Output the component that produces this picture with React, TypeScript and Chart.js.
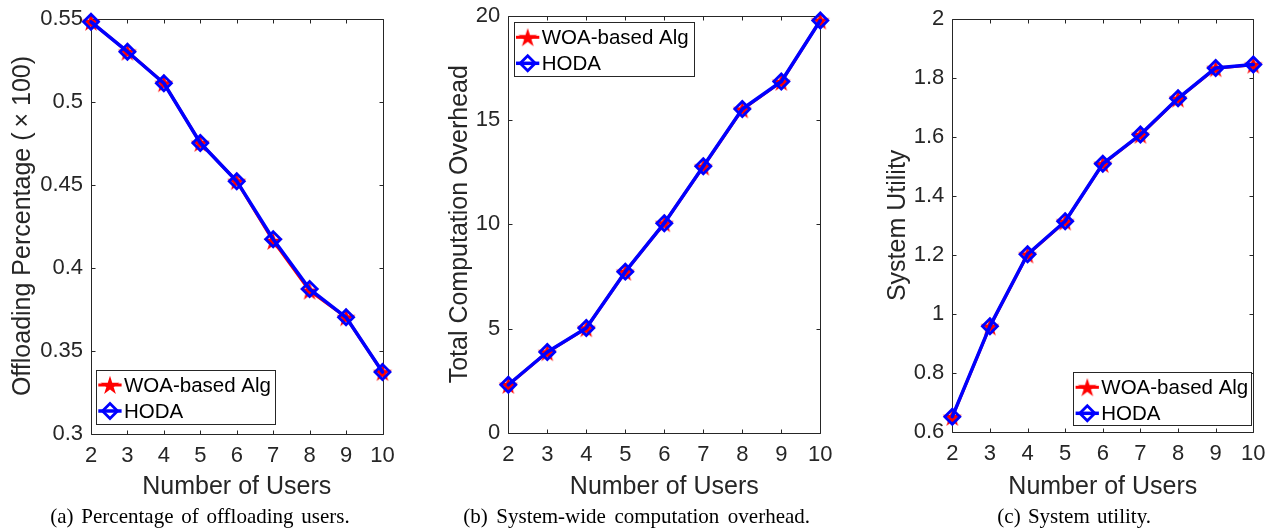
import React, { useEffect, useRef } from 'react';
import { Chart, registerables } from 'chart.js';
Chart.register(...registerables);

// ---------- data ----------
const users = ['2', '3', '4', '5', '6', '7', '8', '9', '10'];
const seriesNames = ['WOA-based Alg', 'HODA'];
const xTitle = 'Number of Users';

const offloadWOA = [0.548, 0.530, 0.511, 0.475, 0.452, 0.416, 0.386, 0.370, 0.337];
const offloadHODA = [0.548, 0.530, 0.511, 0.475, 0.452, 0.417, 0.387, 0.370, 0.337];
const offloadTicks = [0.3, 0.35, 0.4, 0.45, 0.5, 0.55];
const offloadTickLabels = ['0.3', '0.35', '0.4', '0.45', '0.5', '0.55'];

const overheadWOA = [2.30, 3.87, 5.02, 7.72, 10.05, 12.76, 15.50, 16.82, 19.76];
const overheadHODA = [2.31, 3.88, 5.03, 7.73, 10.05, 12.78, 15.52, 16.84, 19.76];
const overheadTicks = [0, 5, 10, 15, 20];
const overheadTickLabels = ['0', '5', '10', '15', '20'];

const utilityWOA = [0.650, 0.957, 1.201, 1.313, 1.508, 1.607, 1.730, 1.833, 1.845];
const utilityHODA = [0.651, 0.958, 1.202, 1.314, 1.509, 1.608, 1.731, 1.834, 1.846];
const utilityTicks = [0.6, 0.8, 1, 1.2, 1.4, 1.6, 1.8, 2];
const utilityTickLabels = ['0.6', '0.8', '1', '1.2', '1.4', '1.6', '1.8', '2'];

const captions = [
  '(a) Percentage of offloading users.',
  '(b) System-wide computation overhead.',
  '(c) System utility.',
];

// ---------- styles ----------
const AXIS_COLOR = '#262626';
const SANS = "'Liberation Sans', Arial, Helvetica, sans-serif";
const SERIF = "'Liberation Serif', 'Times New Roman', serif";

function makeStar(R: number, color: string): HTMLCanvasElement {
  const size = Math.ceil(2 * R + 2);
  const c = document.createElement('canvas');
  c.width = size;
  c.height = size;
  const ctx = c.getContext('2d')!;
  const cx = size / 2;
  const cy = size / 2 + R * 0.08;
  const r = R * 0.382;
  ctx.beginPath();
  for (let i = 0; i < 10; i++) {
    const ang = -Math.PI / 2 + (i * Math.PI) / 5;
    const rr = i % 2 === 0 ? R : r;
    ctx.lineTo(cx + rr * Math.cos(ang), cy + rr * Math.sin(ang));
  }
  ctx.closePath();
  ctx.fillStyle = color;
  ctx.fill();
  return c;
}

function drawDiamond(ctx: CanvasRenderingContext2D, x: number, y: number, r: number, lw: number, color: string) {
  ctx.save();
  ctx.beginPath();
  ctx.moveTo(x - r, y);
  ctx.lineTo(x, y - r);
  ctx.lineTo(x + r, y);
  ctx.lineTo(x, y + r);
  ctx.closePath();
  ctx.lineWidth = lw;
  ctx.strokeStyle = color;
  ctx.lineJoin = 'miter';
  ctx.stroke();
  ctx.restore();
}

const boxPlugin = {
  id: 'matlabBox',
  beforeDatasetsDraw(chart: any) {
    const { ctx, chartArea: a, scales } = chart;
    const xs = scales.x;
    const ys = scales.y;
    const L = Math.round(a.left) + 0.5;
    const R = Math.round(a.right) + 0.5;
    const T = Math.round(a.top) + 0.5;
    const B = Math.round(a.bottom) + 0.5;
    const TL = 4;
    ctx.save();
    ctx.strokeStyle = AXIS_COLOR;
    ctx.lineWidth = 1;
    ctx.beginPath();
    ctx.rect(L, T, R - L, B - T);
    xs.ticks.forEach((_t: any, i: number) => {
      const px = Math.round(xs.getPixelForTick(i)) + 0.5;
      ctx.moveTo(px, B);
      ctx.lineTo(px, B - TL);
      ctx.moveTo(px, T);
      ctx.lineTo(px, T + TL);
    });
    ys.ticks.forEach((t: any) => {
      const py = Math.round(ys.getPixelForValue(t.value)) + 0.5;
      ctx.moveTo(L, py);
      ctx.lineTo(L + TL, py);
      ctx.moveTo(R, py);
      ctx.lineTo(R - TL, py);
    });
    ctx.stroke();
    ctx.restore();
  },
};

const legendPlugin = {
  id: 'matlabLegend',
  afterDraw(chart: any, _args: any, opts: any) {
    const { ctx, chartArea: a } = chart;
    const w = opts.w;
    const h = opts.h;
    const left = opts.corner.includes('l') ? a.left + opts.dx : a.right - opts.dx - w;
    const top = opts.corner.includes('t') ? a.top + opts.dy : a.bottom - opts.dy - h;
    ctx.save();
    ctx.fillStyle = '#ffffff';
    ctx.fillRect(left, top, w, h);
    ctx.strokeStyle = AXIS_COLOR;
    ctx.lineWidth = 1;
    ctx.strokeRect(Math.round(left) + 0.5, Math.round(top) + 0.5, Math.round(w), Math.round(h));
    chart.data.datasets.forEach((ds: any, i: number) => {
      const cy = top + opts.rows[i];
      ctx.beginPath();
      ctx.moveTo(left + opts.lineX0, cy);
      ctx.lineTo(left + opts.lineX1, cy);
      ctx.strokeStyle = ds.borderColor;
      ctx.lineWidth = ds.borderWidth;
      ctx.stroke();
      const mx = left + opts.markerX;
      if (typeof ds.pointStyle === 'object') {
        const img = ds.pointStyle as HTMLCanvasElement;
        ctx.drawImage(img, mx - img.width / 2, cy - img.height / 2);
      } else {
        drawDiamond(ctx, mx, cy, ds.pointRadius, ds.pointBorderWidth, ds.pointBorderColor);
      }
      ctx.fillStyle = '#000000';
      ctx.font = `${opts.fontSize}px ${SANS}`;
      ctx.textBaseline = 'middle';
      ctx.textAlign = 'left';
      ctx.fillText(ds.label, left + opts.textX, cy + 1);
    });
    ctx.restore();
  },
};

type PanelSpec = {
  woa: number[];
  hoda: number[];
  ticks: number[];
  tickLabels: string[];
  yTitle: string;
  yWidth: number;
  xHeight: number;
  pad: { top: number; right: number };
  yTitlePad: number;
  xTitlePad: number;
  legend: any;
};

function makeConfig(p: PanelSpec): any {
  const star = makeStar(10, '#ff0000');
  return {
    type: 'line',
    data: {
      labels: users,
      datasets: [
        {
          label: seriesNames[0],
          data: p.woa,
          borderColor: '#ff0000',
          backgroundColor: '#ff0000',
          borderWidth: 3,
          pointStyle: star,
          pointRadius: 10,
          pointBorderWidth: 0,
          order: 2,
          clip: false,
          borderJoinStyle: 'round',
          borderCapStyle: 'round',
        },
        {
          label: seriesNames[1],
          data: p.hoda,
          borderColor: '#0000ff',
          backgroundColor: 'rgba(0,0,0,0)',
          borderWidth: 3.5,
          pointStyle: 'rectRot',
          pointRadius: 7.5,
          pointBorderWidth: 2.8,
          pointBackgroundColor: 'rgba(0,0,0,0)',
          pointBorderColor: '#0000ff',
          order: 1,
          clip: false,
          borderJoinStyle: 'round',
          borderCapStyle: 'round',
        },
      ],
    },
    options: {
      responsive: false,
      animation: false,
      devicePixelRatio: 1,
      events: [],
      layout: { padding: { left: 0, top: p.pad.top, right: p.pad.right, bottom: 0 } },
      plugins: {
        legend: { display: false },
        tooltip: { enabled: false },
        matlabLegend: p.legend,
      },
      scales: {
        x: {
          type: 'category',
          offset: false,
          afterFit: (s: any) => {
            s.height = p.xHeight;
            s.paddingLeft = 0;
            s.paddingRight = 0;
          },
          grid: { display: false, drawTicks: false },
          border: { display: false },
          ticks: {
            autoSkip: false,
            maxRotation: 0,
            minRotation: 0,
            padding: 9,
            color: AXIS_COLOR,
            font: { family: SANS, size: 22 },
          },
          title: {
            display: true,
            text: xTitle,
            color: AXIS_COLOR,
            font: { family: SANS, size: 25 },
            padding: { top: 0, bottom: p.xTitlePad },
          },
        },
        y: {
          type: 'linear',
          min: p.ticks[0],
          max: p.ticks[p.ticks.length - 1],
          afterBuildTicks: (s: any) => {
            s.ticks = p.ticks.map((v) => ({ value: v }));
          },
          afterFit: (s: any) => {
            s.width = p.yWidth;
            s.paddingTop = 0;
            s.paddingBottom = 0;
          },
          grid: { display: false, drawTicks: false },
          border: { display: false },
          ticks: {
            autoSkip: false,
            padding: 8,
            color: AXIS_COLOR,
            font: { family: SANS, size: 22 },
            callback: (_v: any, i: number) => p.tickLabels[i],
          },
          title: {
            display: true,
            text: p.yTitle,
            color: AXIS_COLOR,
            font: { family: SANS, size: 25 },
            padding: { top: p.yTitlePad, bottom: 0 },
          },
        },
      },
    },
    plugins: [boxPlugin, legendPlugin],
  };
}

function Panel({ left, width, spec }: { left: number; width: number; spec: PanelSpec }) {
  const ref = useRef<HTMLCanvasElement>(null);
  useEffect(() => {
    const chart = new Chart(ref.current!, makeConfig(spec));
    return () => chart.destroy();
  }, []);
  return (
    <canvas
      ref={ref}
      width={width}
      height={529}
      style={{ position: 'absolute', left, top: 0, width, height: 529 }}
    />
  );
}

const legendCommon = { rows: [15, 41], lineX0: 2.3, lineX1: 25.6, markerX: 14, textX: 28, fontSize: 20.5 };

const specA: PanelSpec = {
  woa: offloadWOA,
  hoda: offloadHODA,
  ticks: offloadTicks,
  tickLabels: offloadTickLabels,
  yTitle: 'Offloading Percentage (\u2009\u00d7 100)',
  yWidth: 91,
  xHeight: 95.5,
  pad: { top: 18.5, right: 37.5 },
  yTitlePad: 8.3,
  xTitlePad: 26.6,
  legend: { ...legendCommon, corner: 'bl', dx: 5, dy: 9.5, w: 179, h: 54 },
};
const specB: PanelSpec = {
  woa: overheadWOA,
  hoda: overheadHODA,
  ticks: overheadTicks,
  tickLabels: overheadTickLabels,
  yTitle: 'Total Computation Overhead',
  yWidth: 88.3,
  xHeight: 96,
  pad: { top: 15.5, right: 29.7 },
  yTitlePad: 25,
  xTitlePad: 26.6,
  legend: { ...legendCommon, corner: 'tl', dx: 5.4, dy: 6.8, w: 179.6, h: 54.4 },
};
const specC: PanelSpec = {
  woa: utilityWOA,
  hoda: utilityHODA,
  ticks: utilityTicks,
  tickLabels: utilityTickLabels,
  yTitle: 'System Utility',
  yWidth: 102.3,
  xHeight: 97.3,
  pad: { top: 19, right: 22.7 },
  yTitlePad: 33,
  xTitlePad: 26.6,
  legend: { ...legendCommon, corner: 'br', dx: 1.6, dy: 6, w: 178.4, h: 53.4 },
};

const captionStyle = (cx: number, ws: number): React.CSSProperties => ({
  position: 'absolute',
  left: cx,
  top: 506,
  transform: 'translateX(-50%)',
  whiteSpace: 'nowrap',
  fontFamily: SERIF,
  fontSize: 21,
  lineHeight: '21px',
  wordSpacing: ws,
  color: '#000',
});

export default function App() {
  return (
    <div style={{ position: 'fixed', left: 0, top: 0, width: 1276, height: 529, background: '#fff', overflow: 'hidden' }}>
      <Panel left={0} width={420} spec={specA} />
      <Panel left={420} width={430} spec={specB} />
      <Panel left={850} width={426} spec={specC} />
      <div style={captionStyle(200, 2.5)}>{captions[0]}</div>
      <div style={captionStyle(636.7, 3.2)}>{captions[1]}</div>
      <div style={captionStyle(1074.2, 2)}>{captions[2]}</div>
    </div>
  );
}
